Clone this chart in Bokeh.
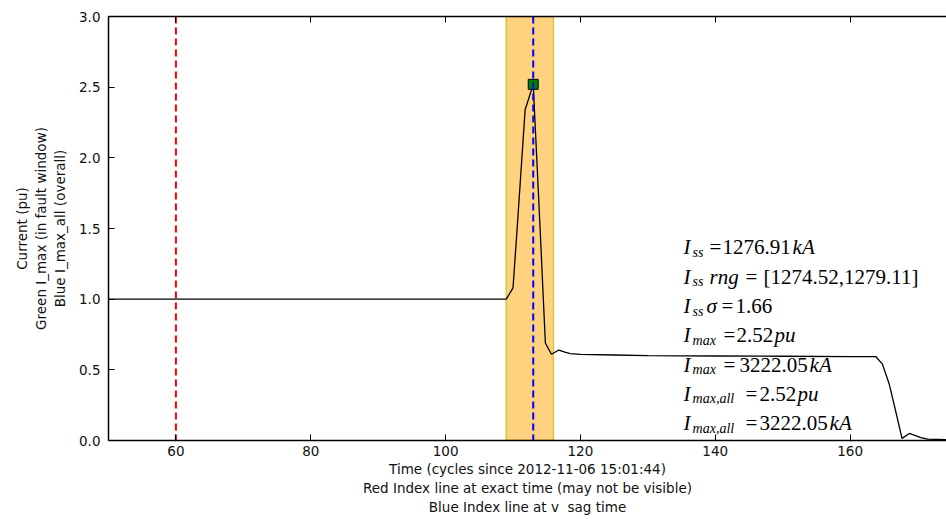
from bokeh.plotting import figure
from bokeh.models import (Span, BoxAnnotation, Label, LinearAxis, FixedTicker, Range1d,
                          ColumnDataSource, NumeralTickFormatter, CustomLabelingPolicy)
from bokeh.embed import file_html
from bokeh.resources import INLINE

# ---- data ----
time_cycles = [50, 109, 110, 110.6, 111.8, 113, 114, 114.8, 115.7, 116.8, 117.7, 118.5,
               120, 125, 130, 140, 150, 160, 163.8, 164.8, 165.8, 166.8, 167.7, 168.8,
               170.5, 171.5, 174.3]
current_pu = [1.0, 1.0, 1.08, 1.49, 2.34, 2.52, 1.52, 0.69, 0.61, 0.64, 0.625, 0.615,
              0.61, 0.605, 0.60, 0.598, 0.596, 0.594, 0.594, 0.54, 0.40, 0.20, 0.015, 0.05,
              0.02, 0.01, 0.005]

red_index_time = 60
blue_index_time = 113
fault_window = [109, 116]
imax_time = [113]
imax_value = [2.52]

x_ticks = [60, 80, 100, 120, 140, 160]
y_ticks = [0.0, 0.5, 1.0, 1.5, 2.0, 2.5, 3.0]

# statistics text: (text, kind) where kind = main / ital / sub
stat_rows = [
    [("I", "ital"), ("ss", "sub"), ("=", "main"), ("1276.91", "main"), ("kA", "ital")],
    [("I", "ital"), ("ss", "sub"), ("rng", "ital"), ("=", "main"), ("[1274.52,1279.11]", "main")],
    [("I", "ital"), ("ss", "sub"), ("\u03c3", "ital"), ("=", "main"), ("1.66", "main")],
    [("I", "ital"), ("max", "sub"), ("=", "main"), ("2.52", "main"), ("pu", "ital")],
    [("I", "ital"), ("max", "sub"), ("=", "main"), ("3222.05", "main"), ("kA", "ital")],
    [("I", "ital"), ("max,all", "sub"), ("=", "main"), ("2.52", "main"), ("pu", "ital")],
    [("I", "ital"), ("max,all", "sub"), ("=", "main"), ("3222.05", "main"), ("kA", "ital")],
]
# layout of the statistics block (pixel offsets of each piece)
stat_offsets = [
    [0, 9, 26, 39, 109],
    [0, 9, 26, 62, 80],
    [0, 9, 23, 38, 52],
    [0, 9, 40, 53, 91],
    [0, 9, 40, 56, 126],
    [0, 9, 62, 76, 114],
    [0, 9, 62, 76, 146],
]
stat_x = 135.3
stat_y0 = 1.366
stat_dy = 0.2073

x_label = ("Time (cycles since 2012-11-06 15:01:44)\n"
           "Red Index line at exact time (may not be visible)\n"
           "Blue Index line at v \u00a0sag time")
y_label = "Current (pu)\nGreen I_max (in fault window)\nBlue I_max_all (overall)"

FONT = "DejaVu Sans"
SERIF = "Liberation Serif"

p = figure(width=946, height=519, output_backend="svg", toolbar_location=None,
           x_range=Range1d(50, 174.3), y_range=Range1d(0, 3),
           min_border_left=108, min_border_right=0, min_border_top=16, min_border_bottom=79)
p.outline_line_color = None
p.grid.visible = False
p.background_fill_color = "white"
p.border_fill_color = "white"

def style_axis(ax):
    ax.axis_line_color = "black"
    ax.axis_line_width = 1.5
    ax.major_tick_in = 6
    ax.major_tick_out = 0
    ax.minor_tick_in = 0
    ax.minor_tick_out = 0
    ax.major_tick_line_color = "black"
    ax.major_label_text_font = FONT
    ax.major_label_text_font_size = "13.5px"
    ax.major_label_text_color = "#111111"
    ax.axis_label_text_font = FONT
    ax.axis_label_text_font_size = "13.5px"
    ax.axis_label_text_font_style = "normal"
    ax.axis_label_text_color = "#111111"
    ax.axis_label_text_line_height = 1.2

p.xaxis.ticker = FixedTicker(ticks=x_ticks)
p.yaxis.ticker = FixedTicker(ticks=y_ticks)
p.yaxis.formatter = NumeralTickFormatter(format="0.0")
style_axis(p.xaxis[0])
style_axis(p.yaxis[0])
p.xaxis.major_label_standoff = 5
p.yaxis.major_label_standoff = 8
p.xaxis.axis_label = x_label
p.yaxis.axis_label = y_label
p.xaxis.axis_label_standoff = 2
p.yaxis.axis_label_standoff = 8

top = LinearAxis(ticker=FixedTicker(ticks=x_ticks),
                 major_label_policy=CustomLabelingPolicy(
                     code="for (const i of Array.from(indices)) { indices.unset(i) }"))
style_axis(top)
top.major_label_standoff = 0
p.add_layout(top, "above")

# fault window and index lines
p.add_layout(BoxAnnotation(left=fault_window[0], right=fault_window[1],
                           fill_color="orange", fill_alpha=0.5,
                           line_color="#d9c53a", line_alpha=1.0, line_width=1.5,
                           level="underlay"))
p.add_layout(Span(location=red_index_time, dimension="height", line_color="red",
                  line_dash="7 4", line_width=2, level="glyph"))
p.add_layout(Span(location=blue_index_time, dimension="height", line_color="#0000ff",
                  line_dash="7 4", line_width=2, level="glyph"))

src = ColumnDataSource(dict(t=time_cycles, i=current_pu))
p.line("t", "i", source=src, line_color="black", line_width=1.3)
p.scatter(imax_time, imax_value, marker="square", size=10, fill_color="green",
          line_color="black", line_width=1)

for r, (row, offs) in enumerate(zip(stat_rows, stat_offsets)):
    yb = stat_y0 - r * stat_dy
    for (txt, kind), dx in zip(row, offs):
        if kind == "sub":
            size, style, dy = "14px", "italic", -5
        elif kind == "ital":
            size, style, dy = "21px", "italic", 0
        else:
            size, style, dy = "21px", "normal", 0
        p.add_layout(Label(x=stat_x, y=yb, x_offset=dx, y_offset=dy, text=txt,
                           text_font=SERIF, text_font_style=style, text_font_size=size,
                           text_baseline="alphabetic", text_align="left", text_color="black"))

# small stray title mark above the frame (screen units are frame-relative)
p.add_layout(Label(x=270, y=432, x_units="screen", y_units="screen", text="-",
                   text_font=FONT, text_font_size="13px", text_align="center",
                   text_baseline="middle", text_color="#222222", level="overlay"))

open("out.html", "w").write(file_html(p, INLINE))
